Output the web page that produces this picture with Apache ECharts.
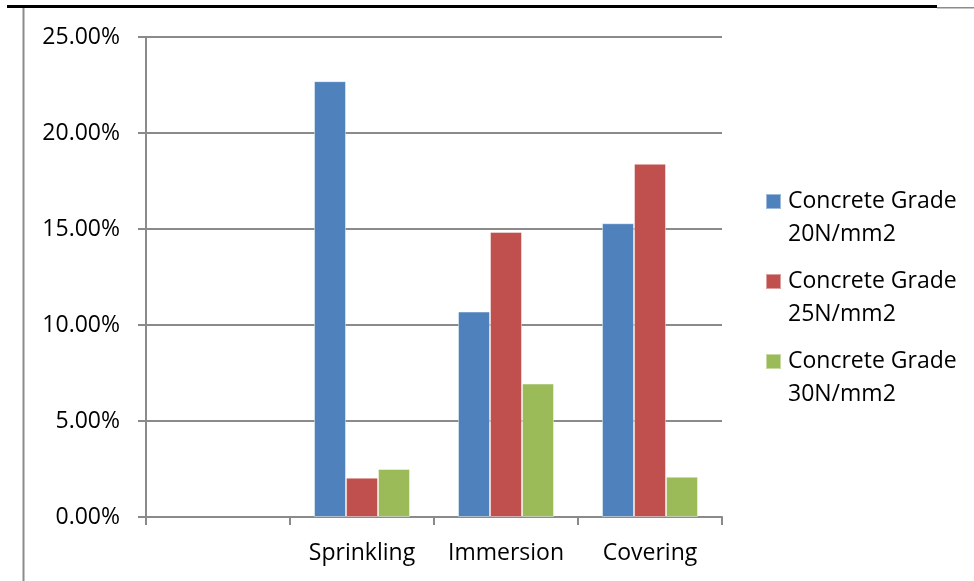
<!DOCTYPE html>
<html>
<head>
<meta charset="utf-8">
<script src="https://cdn.jsdelivr.net/npm/echarts@6/dist/echarts.min.js"></script>
<style>
  html, body { margin: 0; padding: 0; background: #fff; }
  #chart { width: 974px; height: 581px; }
</style>
</head>
<body>
<div id="chart"></div>
<script>
// Curing method categories (first slot left empty on the axis)
const categories = ['', 'Sprinkling', 'Immersion', 'Covering'];

// Percentage values per concrete grade
const grade20 = [null, 22.7, 10.7, 15.3];
const grade25 = [null, 2.05, 14.85, 18.4];
const grade30 = [null, 2.5, 6.95, 2.1];

const seriesNames = ['Concrete Grade 20N/mm2', 'Concrete Grade 25N/mm2', 'Concrete Grade 30N/mm2'];
const seriesColors = ['#4F81BD', '#C0504D', '#9BBB59'];

// Y axis range
const yMin = 0, yMax = 25, yStep = 5;

const FONT = 'Open Sans';
const AXIS_GREY = '#8a8a8a';

const chart = echarts.init(document.getElementById('chart'));

const makeBar = (name, data, color) => ({
  name,
  type: 'bar',
  data,
  barGap: '0%',
  barCategoryGap: '33.33%',
  itemStyle: { color, borderColor: 'rgba(255,255,255,0.45)', borderWidth: 1 },
  emphasis: { disabled: true }
});

chart.setOption({
  animation: false,
  backgroundColor: '#ffffff',
  textStyle: { fontFamily: FONT },
  grid: { left: 146, right: 252, top: 37, bottom: 64 },
  legend: {
    orient: 'vertical',
    left: 765,
    top: 152,
    padding: 0,
    itemWidth: 15,
    itemHeight: 15,
    itemGap: -19,
    icon: 'rect',
    selectedMode: false,
    // blank leading line keeps the swatch level with the first text line
    formatter: name => '\n' + name.replace('Grade ', 'Grade\n'),
    textStyle: {
      fontFamily: FONT,
      fontSize: 23,
      color: '#000',
      lineHeight: 33,
      padding: [0, 0, 0, 2]
    },
    data: seriesNames
  },
  xAxis: {
    type: 'category',
    data: categories,
    boundaryGap: true,
    axisLine: { lineStyle: { color: AXIS_GREY, width: 2 } },
    axisTick: { show: true, length: 8, alignWithLabel: false, lineStyle: { color: AXIS_GREY, width: 2 } },
    axisLabel: { color: '#000', fontSize: 23, fontFamily: FONT, margin: 25, interval: 0 },
    splitLine: { show: false }
  },
  yAxis: {
    type: 'value',
    min: yMin,
    max: yMax,
    interval: yStep,
    axisLine: { show: true, lineStyle: { color: AXIS_GREY, width: 2 } },
    axisTick: { show: true, length: 8, lineStyle: { color: AXIS_GREY, width: 2 } },
    axisLabel: {
      color: '#000',
      fontSize: 23,
      fontFamily: FONT,
      margin: 26,
      formatter: v => v.toFixed(2) + '%'
    },
    splitLine: { show: true, lineStyle: { color: AXIS_GREY, width: 2 } }
  },
  series: [
    makeBar(seriesNames[0], grade20, seriesColors[0]),
    makeBar(seriesNames[1], grade25, seriesColors[1]),
    makeBar(seriesNames[2], grade30, seriesColors[2])
  ],
  graphic: [
    // page border: heavy rule along the top, thin rule down the left
    { type: 'rect', shape: { x: 7, y: 5, width: 930, height: 3 }, style: { fill: '#000' }, silent: true },
    { type: 'rect', shape: { x: 937, y: 7, width: 37, height: 1.5 }, style: { fill: '#8c8c8c' }, silent: true },
    { type: 'rect', shape: { x: 22.5, y: 8, width: 2, height: 573 }, style: { fill: '#8c8c8c' }, silent: true }
  ]
});
</script>
</body>
</html>
